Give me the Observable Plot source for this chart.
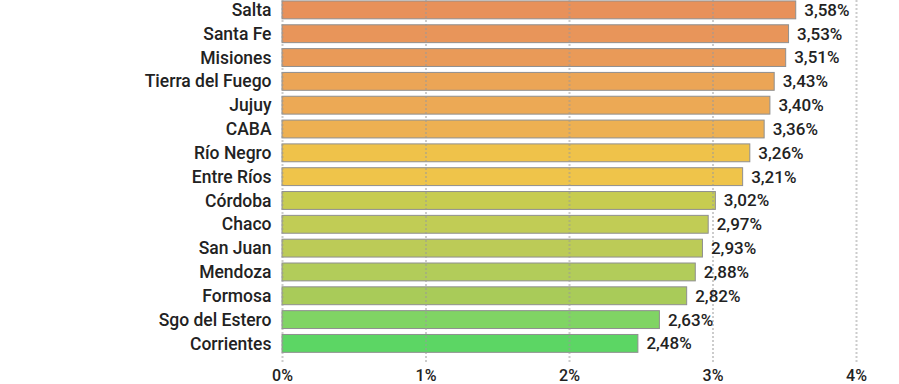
<!DOCTYPE html>
<html>
<head>
<meta charset="utf-8">
<script src="https://cdn.jsdelivr.net/npm/d3@7"></script>
<script src="https://cdn.jsdelivr.net/npm/@observablehq/plot@0.6"></script>
<style>
  html, body { margin: 0; padding: 0; background: #fff; }
  #chart { width: 899px; height: 384px; overflow: hidden; }
</style>
</head>
<body>
<div id="chart"></div>
<script>
const regiones = ["Salta", "Santa Fe", "Misiones", "Tierra del Fuego", "Jujuy", "CABA", "Río Negro", "Entre Ríos", "Córdoba", "Chaco", "San Juan", "Mendoza", "Formosa", "Sgo del Estero", "Corrientes"];
const valores = [3.58, 3.53, 3.51, 3.43, 3.40, 3.36, 3.26, 3.21, 3.02, 2.97, 2.93, 2.88, 2.82, 2.63, 2.48];
const xTicks = [0, 1, 2, 3, 4];

const palette = ["#E8915A", "#E8955A", "#E99A58", "#EBA556", "#ECA955", "#EDB052", "#EFC24A", "#EFC44A", "#C7CC50", "#C1CC55", "#BCCB57", "#B2CC5A", "#A9CB59", "#80D464", "#5CD664"];

const data = regiones.map((r, i) => ({region: r, valor: valores[i]}));
const fmt = v => d3.format(".2f")(v).replace(".", ",") + "%";

const chart = Plot.plot({
  width: 899,
  height: 384,
  marginTop: 0,
  marginBottom: 20,
  marginLeft: 282,
  marginRight: 43,
  style: {fontFamily: "Roboto, 'DejaVu Sans', sans-serif", fontSize: "16.5px", fontWeight: 500, color: "#222", background: "#fff"},
  x: {domain: [0, 4], axis: null},
  y: {domain: regiones, range: [-5, 358.3], padding: 0.25, round: false, axis: null},
  color: {domain: regiones, range: palette},
  marks: [
    Plot.barX(data, {x: "valor", y: "region", fill: "region", stroke: "#8f8f8f", strokeWidth: 1}),
    Plot.ruleX(xTicks, {stroke: "#999", strokeDasharray: "2,2", strokeWidth: 2, strokeOpacity: 0.5}),
    Plot.axisY({tickSize: 0, tickPadding: 11, fontSize: 17.5, label: null}),
    Plot.axisX(xTicks, {tickSize: 0, tickPadding: 5, fontSize: 16, tickFormat: d => d + "%", label: null}),
    Plot.text(data, {x: "valor", y: "region", text: d => fmt(d.valor), dx: 8, textAnchor: "start", fontSize: 17, fontWeight: 500, fill: "#222"})
  ]
});
document.getElementById("chart").appendChild(chart);
</script>
</body>
</html>
